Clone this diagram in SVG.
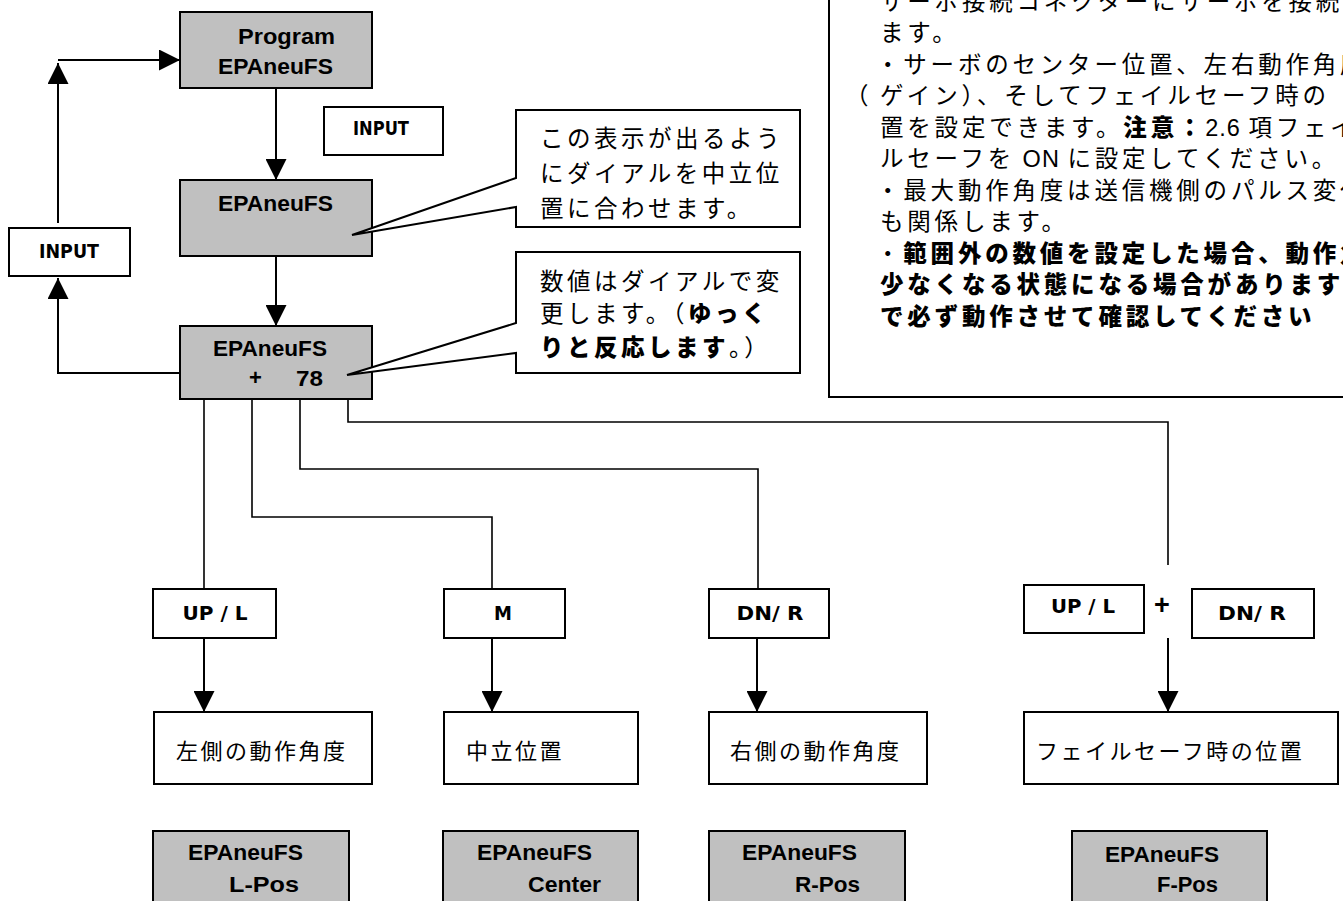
<svg xmlns="http://www.w3.org/2000/svg" width="1343" height="901" viewBox="0 0 1343 901">
  <defs>
    <marker id="arrow" markerUnits="userSpaceOnUse" markerWidth="22" markerHeight="21" refX="21" refY="10.5" orient="auto">
      <path d="M0,0 L21,10.5 L0,21 Z" fill="#000"/>
    </marker>
    <style>
      .box{fill:#fff;stroke:#000;stroke-width:2}
      .lcd{fill:#c0c0c0;stroke:#000;stroke-width:2}
      .lbl{font-family:"Liberation Sans",Arial,sans-serif;font-weight:bold;font-size:22px;fill:#000}
      .key{font-family:"Liberation Sans Narrow","DejaVu Sans Condensed","Liberation Sans",sans-serif;font-weight:bold;font-size:20px;fill:#000}
      .jp{font-family:"Noto Sans CJK JP",sans-serif;font-size:23.5px;letter-spacing:3.8px;fill:#000}
      .jpc{font-family:"Noto Sans CJK JP",sans-serif;font-size:23.5px;letter-spacing:3.5px;fill:#000}
      .jps{font-family:"Noto Sans CJK JP",sans-serif;font-size:22px;letter-spacing:2.5px;fill:#000}
      .lat{font-family:"Liberation Sans",Arial,sans-serif;letter-spacing:1px}
      .b{font-weight:900}
      .flow{fill:none;stroke:#000;stroke-width:2}
      .wire{fill:none;stroke:#000;stroke-width:1.6}
    </style>
  </defs>

  <!-- explanatory note (runs past the page edge) -->
  <g id="note">
    <rect class="box" x="829" y="-6" width="530" height="403"/>
    <text class="jp" x="880" y="9.5">サーボ接続コネクターにサーボを接続</text>
    <text class="jp" x="880" y="41">ます。</text>
    <text class="jp" x="876" y="72.5">・サーボのセンター位置、左右動作角度</text>
    <text class="jp" y="104"><tspan x="845">（</tspan><tspan x="880">ゲイン）、そしてフェイルセーフ時の</tspan></text>
    <text class="jp" x="880" y="135.5">置を設定できます。<tspan class="b">注意：</tspan><tspan class="lat">2.6 </tspan>項フェイ</text>
    <text class="jp" x="880" y="167">ルセーフを<tspan class="lat"> ON </tspan>に設定してください。</text>
    <text class="jp" x="876" y="198.5">・最大動作角度は送信機側のパルス変化</text>
    <text class="jp" x="880" y="230">も関係します。</text>
    <text class="jp" x="876" y="261.5">・<tspan class="b">範囲外の数値を設定した場合、動作角</tspan></text>
    <text class="jp b" x="880" y="293">少なくなる状態になる場合があります</text>
    <text class="jp b" x="880" y="324.5">で必ず動作させて確認してください</text>
  </g>

  <!-- connectors -->
  <g id="connectors">
    <path class="flow" d="M58,60 H180" marker-end="url(#arrow)"/>
    <path class="flow" d="M58,223 V63" marker-end="url(#arrow)"/>
    <path class="flow" d="M180,373 H58 V278" marker-end="url(#arrow)"/>
    <path class="flow" d="M276,88 V180" marker-end="url(#arrow)"/>
    <path class="flow" d="M276,256 V326" marker-end="url(#arrow)"/>
    <path class="wire" d="M204,399 V589"/>
    <path class="wire" d="M252,399 V517 H492 V589"/>
    <path class="wire" d="M300,399 V469 H758 V589"/>
    <path class="wire" d="M348,399 V422 H1168 V565"/>
    <path class="flow" d="M204,638 V712" marker-end="url(#arrow)"/>
    <path class="flow" d="M492,638 V712" marker-end="url(#arrow)"/>
    <path class="flow" d="M757,638 V712" marker-end="url(#arrow)"/>
    <path class="flow" d="M1168,638 V712" marker-end="url(#arrow)"/>
  </g>

  <!-- display screens -->
  <g id="program">
    <rect class="lcd" x="180" y="12" width="192" height="76"/>
    <text class="lbl" x="238" y="44" textLength="97" lengthAdjust="spacingAndGlyphs">Program</text>
    <text class="lbl" x="218" y="74" textLength="115" lengthAdjust="spacingAndGlyphs">EPAneuFS</text>
  </g>
  <g id="menu">
    <rect class="lcd" x="180" y="180" width="192" height="76"/>
    <text class="lbl" x="218" y="211" textLength="115" lengthAdjust="spacingAndGlyphs">EPAneuFS</text>
  </g>
  <g id="value">
    <rect class="lcd" x="180" y="326" width="192" height="73"/>
    <text class="lbl" x="213" y="356" textLength="114" lengthAdjust="spacingAndGlyphs">EPAneuFS</text>
    <text class="lbl" x="249" y="385">+</text>
    <text class="lbl" x="296" y="386" textLength="27" lengthAdjust="spacingAndGlyphs">78</text>
  </g>

  <!-- INPUT keys -->
  <g id="input-left">
    <rect class="box" x="9" y="228" width="121" height="48"/>
    <text class="key" x="69" y="258" text-anchor="middle" textLength="60" lengthAdjust="spacingAndGlyphs">INPUT</text>
  </g>
  <g id="input-mid">
    <rect class="box" x="324" y="107" width="119" height="48"/>
    <text class="key" x="381" y="135" text-anchor="middle" textLength="56" lengthAdjust="spacingAndGlyphs">INPUT</text>
  </g>

  <!-- callouts -->
  <g id="callout-neutral">
    <path class="box" d="M516,110 H800 V227 H516 V207 L352,235 L516,178 Z"/>
    <text class="jpc" x="540" y="147">この表示が出るよう</text>
    <text class="jpc" x="540" y="182">にダイアルを中立位</text>
    <text class="jpc" x="540" y="217">置に合わせます。</text>
  </g>
  <g id="callout-dial">
    <path class="box" d="M516,252 H800 V373 H516 V353 L347,375 L516,323 Z"/>
    <text class="jpc" x="540" y="290">数値はダイアルで変</text>
    <text class="jpc" x="540" y="322">更します。（<tspan class="b">ゆっく</tspan></text>
    <text class="jpc" x="540" y="356"><tspan class="b">りと反応します</tspan>。）</text>
  </g>

  <!-- selection keys -->
  <g id="key-up">
    <rect class="box" x="153" y="589" width="123" height="49"/>
    <text class="key" x="215" y="620" text-anchor="middle" textLength="65" lengthAdjust="spacingAndGlyphs">UP / L</text>
  </g>
  <g id="key-m">
    <rect class="box" x="444" y="589" width="121" height="49"/>
    <text class="key" x="503" y="620" text-anchor="middle">M</text>
  </g>
  <g id="key-dn">
    <rect class="box" x="709" y="589" width="120" height="49"/>
    <text class="key" x="770" y="620" text-anchor="middle" textLength="67" lengthAdjust="spacingAndGlyphs">DN/ R</text>
  </g>
  <g id="key-up-2">
    <rect class="box" x="1024" y="585" width="120" height="48"/>
    <text class="key" x="1083" y="613" text-anchor="middle" textLength="64" lengthAdjust="spacingAndGlyphs">UP / L</text>
  </g>
  <g id="plus">
    <text class="lbl" x="1162" y="614" text-anchor="middle" style="font-size:27px">+</text>
  </g>
  <g id="key-dn-2">
    <rect class="box" x="1192" y="589" width="122" height="49"/>
    <text class="key" x="1252" y="620" text-anchor="middle" textLength="68" lengthAdjust="spacingAndGlyphs">DN/ R</text>
  </g>

  <!-- results -->
  <g id="left-angle">
    <rect class="box" x="154" y="712" width="218" height="72"/>
    <text class="jps" x="176" y="759">左側の動作角度</text>
  </g>
  <g id="neutral">
    <rect class="box" x="444" y="712" width="194" height="72"/>
    <text class="jps" x="466" y="759">中立位置</text>
  </g>
  <g id="right-angle">
    <rect class="box" x="709" y="712" width="218" height="72"/>
    <text class="jps" x="730" y="759">右側の動作角度</text>
  </g>
  <g id="failsafe">
    <rect class="box" x="1024" y="712" width="314" height="72"/>
    <text class="jps" x="1036" y="759">フェイルセーフ時の位置</text>
  </g>

  <!-- resulting screens -->
  <g id="lpos">
    <rect class="lcd" x="153" y="831" width="196" height="90"/>
    <text class="lbl" x="188" y="860" textLength="115" lengthAdjust="spacingAndGlyphs">EPAneuFS</text>
    <text class="lbl" x="229" y="892" textLength="70" lengthAdjust="spacingAndGlyphs">L-Pos</text>
  </g>
  <g id="center">
    <rect class="lcd" x="443" y="831" width="195" height="90"/>
    <text class="lbl" x="477" y="860" textLength="115" lengthAdjust="spacingAndGlyphs">EPAneuFS</text>
    <text class="lbl" x="528" y="892" textLength="73" lengthAdjust="spacingAndGlyphs">Center</text>
  </g>
  <g id="rpos">
    <rect class="lcd" x="709" y="831" width="196" height="90"/>
    <text class="lbl" x="742" y="860" textLength="115" lengthAdjust="spacingAndGlyphs">EPAneuFS</text>
    <text class="lbl" x="795" y="892" textLength="65" lengthAdjust="spacingAndGlyphs">R-Pos</text>
  </g>
  <g id="fpos">
    <rect class="lcd" x="1072" y="831" width="195" height="90"/>
    <text class="lbl" x="1105" y="862" textLength="114" lengthAdjust="spacingAndGlyphs">EPAneuFS</text>
    <text class="lbl" x="1157" y="892" textLength="61" lengthAdjust="spacingAndGlyphs">F-Pos</text>
  </g>
</svg>
